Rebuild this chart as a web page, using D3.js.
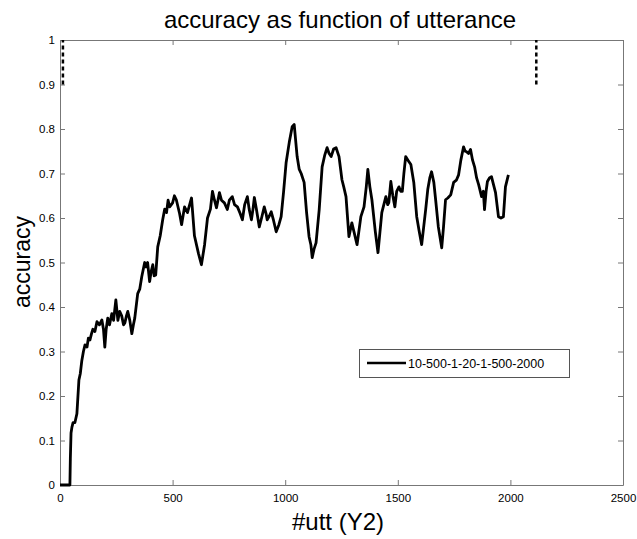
<!DOCTYPE html>
<html><head><meta charset="utf-8">
<script src="https://cdn.jsdelivr.net/npm/d3@7"></script>
<style>body{margin:0;background:#fff}svg{display:block}</style>
</head><body>
<svg id="c" width="637" height="539"></svg>
<script>
const titleText = "accuracy as function of utterance";
const xLabel = "#utt (Y2)";
const yLabel = "accuracy";
const seriesName = "10-500-1-20-1-500-2000";
const xTicks = [0, 500, 1000, 1500, 2000, 2500];
const yTicks = [0, 0.1, 0.2, 0.3, 0.4, 0.5, 0.6, 0.7, 0.8, 0.9, 1];
const markerX = [13, 2115];
const markerY = [0.9, 1];
const utt = [0,44,46,49,53,58,66,75,84,90,97,104,111,120,126,133,140,146,155,164,175,186,193,199,205,212,220,230,238,248,257,265,274,282,288,295,301,310,319,326,332,345,354,363,376,382,389,398,405,412,418,425,434,445,456,465,473,480,487,500,508,517,531,540,553,566,584,597,615,628,642,655,668,677,686,695,708,717,730,743,752,765,775,788,800,810,820,832,840,850,857,863,872,885,895,907,915,920,930,938,948,960,972,982,993,1004,1018,1031,1040,1053,1062,1071,1084,1095,1106,1114,1120,1128,1137,1151,1164,1175,1186,1195,1204,1215,1226,1239,1252,1260,1270,1283,1290,1296,1305,1319,1336,1350,1360,1367,1376,1385,1400,1412,1429,1447,1455,1460,1469,1478,1487,1495,1505,1513,1520,1527,1535,1545,1558,1571,1584,1595,1606,1615,1624,1633,1642,1650,1660,1668,1680,1695,1703,1712,1722,1735,1748,1760,1770,1780,1792,1799,1805,1814,1823,1832,1841,1850,1859,1872,1880,1885,1892,1898,1907,1916,1925,1934,1947,1958,1969,1978,1991];
const accuracy = [0,0,0.06,0.117,0.13,0.14,0.14,0.16,0.236,0.25,0.28,0.3,0.315,0.31,0.33,0.326,0.34,0.35,0.345,0.367,0.36,0.371,0.35,0.31,0.35,0.375,0.36,0.385,0.37,0.416,0.37,0.39,0.38,0.36,0.364,0.38,0.39,0.37,0.34,0.36,0.375,0.43,0.44,0.468,0.5,0.49,0.5,0.457,0.48,0.495,0.47,0.472,0.535,0.56,0.596,0.62,0.612,0.64,0.625,0.634,0.65,0.64,0.61,0.585,0.625,0.612,0.645,0.56,0.52,0.495,0.54,0.6,0.62,0.66,0.64,0.623,0.657,0.64,0.634,0.619,0.64,0.648,0.63,0.625,0.61,0.596,0.63,0.648,0.62,0.596,0.62,0.646,0.62,0.58,0.6,0.625,0.61,0.596,0.605,0.614,0.595,0.569,0.585,0.603,0.66,0.724,0.77,0.805,0.81,0.738,0.71,0.7,0.68,0.612,0.558,0.54,0.511,0.53,0.544,0.619,0.715,0.74,0.758,0.745,0.738,0.755,0.758,0.738,0.686,0.67,0.648,0.558,0.575,0.589,0.57,0.54,0.603,0.625,0.67,0.709,0.67,0.641,0.57,0.522,0.612,0.648,0.63,0.634,0.682,0.65,0.625,0.66,0.67,0.66,0.66,0.7,0.738,0.73,0.72,0.68,0.603,0.57,0.54,0.58,0.62,0.664,0.69,0.704,0.68,0.641,0.58,0.533,0.58,0.641,0.645,0.652,0.68,0.685,0.697,0.73,0.76,0.75,0.749,0.745,0.754,0.73,0.715,0.69,0.675,0.648,0.66,0.619,0.66,0.682,0.69,0.693,0.675,0.657,0.603,0.6,0.603,0.67,0.697];

const svg = d3.select("#c");
const L = 60, R = 623, T = 40, B = 485;
const x = d3.scaleLinear().domain([0, 2500]).range([L, R]);
const y = d3.scaleLinear().domain([0, 1]).range([B, T]);
const axisColor = "#777";
const font = "Liberation Sans, Arial, Helvetica, sans-serif";

function styleAxis(g, hideLabels) {
  g.selectAll("path.domain").attr("stroke", axisColor).attr("stroke-width", 1);
  g.selectAll(".tick line").attr("stroke", axisColor);
  g.selectAll(".tick text").attr("fill", "#000").style("font-family", font).style("font-size", "11.5px");
  if (hideLabels) g.selectAll(".tick text").remove();
}
const fmt = d => d3.format("")(+d.toFixed(1));
svg.append("g").attr("transform", `translate(0,${B})`)
  .call(d3.axisBottom(x).tickValues(xTicks).tickSizeInner(-5).tickSizeOuter(0).tickPadding(9).tickFormat(d3.format("d")))
  .call(g => styleAxis(g, false));
svg.append("g").attr("transform", `translate(0,${T})`)
  .call(d3.axisTop(x).tickValues(xTicks).tickSizeInner(-5).tickSizeOuter(0))
  .call(g => styleAxis(g, true));
svg.append("g").attr("transform", `translate(${L},0)`)
  .call(d3.axisLeft(y).tickValues(yTicks).tickSizeInner(-5).tickSizeOuter(0).tickPadding(5).tickFormat(fmt))
  .call(g => styleAxis(g, false));
svg.append("g").attr("transform", `translate(${R},0)`)
  .call(d3.axisRight(y).tickValues(yTicks).tickSizeInner(-5).tickSizeOuter(0))
  .call(g => styleAxis(g, true));

// dashed markers
svg.append("g").selectAll("line").data(markerX).join("line")
  .attr("x1", d => x(d)).attr("x2", d => x(d))
  .attr("y1", y(markerY[0])).attr("y2", y(markerY[1]))
  .attr("stroke", "#000").attr("stroke-width", 2.5).attr("stroke-dasharray", "4,3");

// series
const pts = utt.map((u, i) => [u, accuracy[i]]);
svg.append("path").datum(pts)
  .attr("fill", "none").attr("stroke", "#000").attr("stroke-width", 2.8)
  .attr("stroke-linejoin", "round")
  .attr("d", d3.line().x(d => x(d[0])).y(d => y(d[1])));

// titles
svg.append("text").attr("x", 340).attr("y", 28).attr("text-anchor", "middle")
  .style("font-family", font).style("font-size", "24px").text(titleText);
svg.append("text").attr("x", 338).attr("y", 530).attr("text-anchor", "middle")
  .style("font-family", font).style("font-size", "24px").text(xLabel);
svg.append("text").attr("transform", "translate(30,262) rotate(-90)").attr("text-anchor", "middle")
  .style("font-family", font).style("font-size", "23px").text(yLabel);

// legend
const lg = svg.append("g");
lg.append("rect").attr("x", 359.5).attr("y", 349.5).attr("width", 210).attr("height", 28)
  .attr("fill", "#fff").attr("stroke", "#555");
lg.append("line").attr("x1", 367).attr("x2", 406).attr("y1", 363).attr("y2", 363)
  .attr("stroke", "#000").attr("stroke-width", 2.5);
lg.append("text").attr("x", 408).attr("y", 367.5).style("font-family", font).style("font-size", "12.5px").text(seriesName);
</script>
</body></html>
